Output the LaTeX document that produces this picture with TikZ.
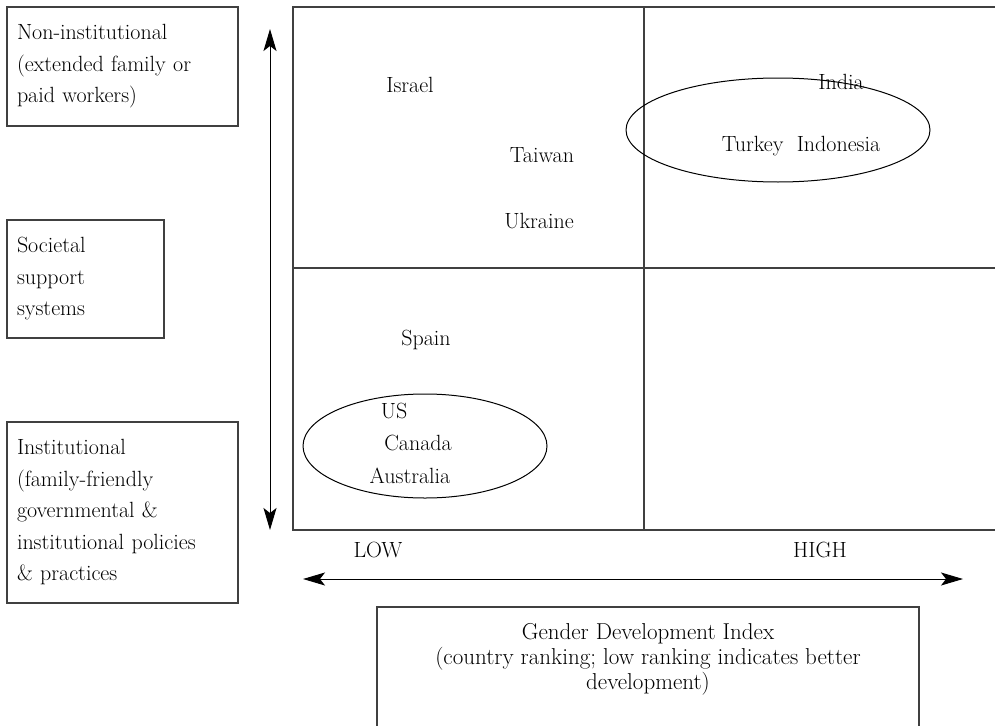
\documentclass[tikz,border=0pt]{standalone}
\usetikzlibrary{arrows.meta}
\begin{document}
\begin{tikzpicture}[x=1pt,y=-1pt]

    \tikzset{
      sidebox/.style={
        draw=black!75,
        line width=1.2pt,
        align=left,
        inner xsep=10pt,
        font=\fontsize{22}{31.5}\selectfont,
      },
      place/.style={inner sep=1pt, font=\fontsize{22}{26}\selectfont},
      gridline/.style={draw=black!75, line width=1.5pt},
      twoway/.style={line width=1pt,
        {Stealth[length=22pt,width=13pt,inset=5pt]}-{Stealth[length=22pt,width=13pt,inset=5pt]}},
    }
    \useasboundingbox (0,0) rectangle (995,725);
    \clip (0,0) rectangle (995,725);

	% support system boxes
	\node[sidebox, minimum width=231, minimum height=119, text width=211] (noninst) at (122.5,66.5) {Non-institutional\\(extended family or\\paid workers)};
	\node[sidebox, minimum width=157, minimum height=118, text width=137] (societal) at (85.5,279) {Societal\\support\\systems};
	\node[sidebox, minimum width=231, minimum height=181, text width=211] (inst) at (122.5,512.5) {Institutional\\(family-friendly\\governmental \&\\institutional policies\\\& practices};

	% quadrants
	\draw[gridline] (293,7) rectangle (1010,530);
	\draw[gridline] (644,7)--(644,530);
	\draw[gridline] (293,268)--(1010,268);

	% double arrows
	\coordinate (vtop) at (270,29);
	\coordinate (vbot) at (270,530);
	\draw[twoway] (vtop)--(vbot);
	\coordinate (hleft) at (303,579);
	\coordinate (hright) at (963,579);
	\draw[twoway] (hleft)--(hright);

	\node[place] (low) at (378,550) {LOW};
	\node[place] (high) at (820,550) {HIGH};

	% countries
	\node[place] (israel) at (410,85) {Israel};
	\node[place] (taiwan) at (542,155) {Taiwan};
	\node[place] (ukraine) at (539,221) {Ukraine};
	\node[place] (india) at (841,82) {India};
	\node[place] (turkey) at (801,146) {Turkey\ \ Indonesia};
	\node[place] (spain) at (426,340) {Spain};
	\node[place] (us) at (394,411) {US};
	\node[place] (canada) at (418,443) {Canada};
	\node[place] (australia) at (410,476) {Australia};

	\draw[line width=1pt] (778,130) ellipse [x radius=152, y radius=52];
	\draw[line width=1pt] (425,446) ellipse [x radius=122, y radius=52];

	% index box, cut at the page edge
	\draw[line width=1.2pt, draw=black!75] (377,740) |- (919,607) -- (919,740);
	\node[place, align=center, font=\fontsize{23}{25}\selectfont, anchor=north] (gdi) at (648,622) {Gender Development Index\\(country ranking; low ranking indicates better\\development)};

\end{tikzpicture}
\end{document}
